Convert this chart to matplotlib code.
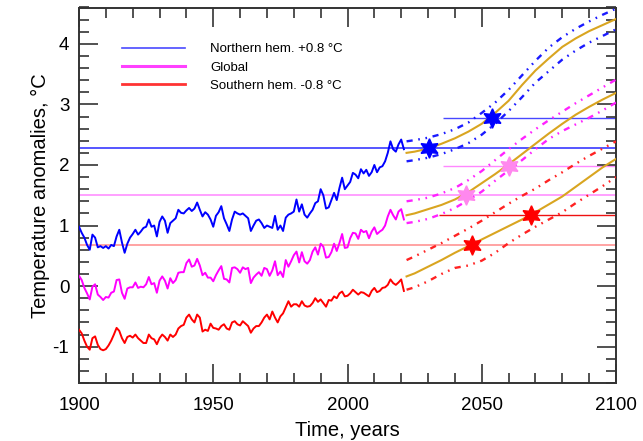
import numpy as np
import matplotlib
matplotlib.use("Agg")
import matplotlib.pyplot as plt
from matplotlib.ticker import MultipleLocator

plt.rcParams['font.family'] = ['Liberation Sans', 'DejaVu Sans']
plt.rcParams['axes.unicode_minus'] = False

# observed annual anomalies 1900-2021 (already offset as in the chart)
years = np.arange(1900, 2022)
glob = [0.17, 0.10, -0.03, -0.12, -0.22, -0.01, 0.03, -0.14, -0.18, -0.23,
        -0.18, -0.19, -0.11, -0.09, 0.10, 0.11, -0.11, -0.21, -0.04, -0.02,
        -0.02, 0.06, -0.03, -0.01, -0.02, 0.03, 0.15, 0.03, 0.05, -0.11,
        0.09, 0.16, 0.09, -0.04, 0.13, 0.05, 0.10, 0.22, 0.23, 0.23,
        0.38, 0.44, 0.32, 0.34, 0.45, 0.34, 0.18, 0.22, 0.14, 0.14,
        0.08, 0.18, 0.26, 0.33, 0.12, 0.11, 0.06, 0.30, 0.31, 0.28,
        0.22, 0.31, 0.28, 0.30, 0.05, 0.14, 0.19, 0.23, 0.17, 0.30,
        0.28, 0.17, 0.26, 0.41, 0.18, 0.24, 0.15, 0.43, 0.32, 0.41,
        0.51, 0.57, 0.39, 0.56, 0.41, 0.37, 0.43, 0.57, 0.64, 0.52,
        0.70, 0.65, 0.47, 0.48, 0.56, 0.70, 0.58, 0.71, 0.86, 0.63,
        0.64, 0.79, 0.88, 0.87, 0.78, 0.93, 0.89, 0.91, 0.79, 0.90,
        0.97, 0.86, 0.90, 0.93, 1.00, 1.15, 1.26, 1.17, 1.10, 1.23,
        1.27, 1.10]
north = [0.98, 0.88, 0.80, 0.68, 0.60, 0.85, 0.80, 0.64, 0.66, 0.63,
         0.66, 0.62, 0.68, 0.66, 0.82, 0.93, 0.72, 0.55, 0.70, 0.80,
         0.86, 0.93, 0.85, 0.90, 0.96, 0.98, 1.10, 0.98, 1.00, 0.82,
         1.06, 1.15, 1.08, 0.88, 1.04, 1.08, 1.12, 1.26, 1.21, 1.20,
         1.25, 1.29, 1.24, 1.28, 1.38, 1.26, 1.15, 1.22, 1.18, 1.10,
         0.98, 1.16, 1.22, 1.32, 1.12, 1.02, 0.91, 1.10, 1.23, 1.20,
         1.18, 1.20, 1.16, 1.12, 0.91, 1.00, 1.08, 1.10, 1.04, 0.96,
         1.00, 0.98, 0.96, 1.16, 0.93, 1.00, 0.91, 1.13, 1.18, 1.20,
         1.23, 1.43, 1.23, 1.35, 1.18, 1.13, 1.20, 1.26, 1.37, 1.40,
         1.60, 1.50, 1.28, 1.30, 1.42, 1.54, 1.42, 1.62, 1.79, 1.60,
         1.66, 1.72, 1.87, 1.84, 1.78, 1.93, 1.86, 1.92, 1.82, 1.88,
         2.00, 1.88, 1.96, 1.98, 2.06, 2.20, 2.39, 2.26, 2.22, 2.34,
         2.42, 2.26]
south = [-0.72, -0.78, -0.90, -1.00, -1.05, -0.86, -0.83, -0.97, -1.04, -1.06,
         -1.04, -0.98, -0.90, -0.80, -0.69, -0.74, -0.86, -0.94, -0.84, -0.82,
         -0.85, -0.80, -0.86, -0.90, -0.94, -0.94, -0.80, -0.86, -0.88, -0.96,
         -0.86, -0.80, -0.84, -0.90, -0.80, -0.84, -0.80, -0.70, -0.66, -0.64,
         -0.52, -0.47, -0.55, -0.60, -0.47, -0.52, -0.75, -0.72, -0.74, -0.62,
         -0.69, -0.70, -0.72, -0.66, -0.63, -0.70, -0.72, -0.60, -0.58, -0.63,
         -0.65, -0.58, -0.62, -0.66, -0.77, -0.70, -0.66, -0.66, -0.60, -0.52,
         -0.47, -0.55, -0.42, -0.52, -0.60, -0.50, -0.45, -0.35, -0.25, -0.34,
         -0.30, -0.30, -0.34, -0.25, -0.32, -0.34, -0.33, -0.28, -0.20, -0.26,
         -0.22, -0.28, -0.34, -0.23, -0.24, -0.17, -0.20, -0.12, -0.09, -0.17,
         -0.16, -0.12, -0.06, -0.10, -0.14, -0.10, -0.11, -0.14, -0.17, -0.08,
         -0.03, -0.10, -0.08, -0.03, -0.02, 0.02, 0.11, 0.05, 0.02, 0.06,
         0.11, -0.08]

# projections 2022-2100
proj_years = [2022, 2025, 2030, 2035, 2040, 2045, 2050, 2055, 2060,
              2065, 2070, 2075, 2080, 2085, 2090, 2095, 2100]
north_mid = [2.20, 2.22, 2.27, 2.35, 2.44, 2.55, 2.68, 2.86, 3.06,
             3.32, 3.56, 3.76, 3.95, 4.09, 4.21, 4.31, 4.41]
north_hi = [2.39, 2.41, 2.45, 2.51, 2.59, 2.70, 2.86, 3.03, 3.24,
            3.48, 3.72, 3.94, 4.11, 4.25, 4.37, 4.48, 4.58]
north_lo = [2.06, 2.08, 2.12, 2.18, 2.26, 2.36, 2.50, 2.68, 2.89,
            3.12, 3.36, 3.55, 3.74, 3.89, 4.02, 4.13, 4.24]
glob_mid = [1.17, 1.20, 1.27, 1.34, 1.43, 1.55, 1.70, 1.85, 2.01,
            2.18, 2.35, 2.52, 2.68, 2.83, 2.96, 3.08, 3.19]
glob_hi = [1.40, 1.42, 1.46, 1.53, 1.62, 1.75, 1.90, 2.08, 2.26,
           2.43, 2.59, 2.74, 2.88, 3.02, 3.15, 3.28, 3.41]
glob_lo = [1.04, 1.06, 1.11, 1.19, 1.29, 1.42, 1.56, 1.74, 1.91,
           2.08, 2.26, 2.43, 2.56, 2.67, 2.78, 2.90, 3.03]
south_mid = [0.16, 0.21, 0.32, 0.43, 0.55, 0.66, 0.77, 0.88, 0.99,
             1.10, 1.22, 1.35, 1.48, 1.64, 1.80, 1.96, 2.10]
south_hi = [0.43, 0.49, 0.60, 0.71, 0.83, 0.95, 1.08, 1.22, 1.36,
            1.49, 1.61, 1.75, 1.88, 2.02, 2.15, 2.27, 2.39]
south_lo = [-0.06, -0.02, 0.08, 0.20, 0.30, 0.34, 0.42, 0.55, 0.71,
            0.85, 0.98, 1.10, 1.22, 1.37, 1.51, 1.65, 1.80]

# reference levels and crossing points
level_now = [2.28, 1.50, 0.68]
level_up = [2.78, 1.99, 1.18]
star_now_x = [2030.3, 2044.0, 2046.5]
star_up_x = [2053.8, 2060.2, 2068.3]

series_col = ['#0000ff', '#ff00ff', '#ff0000']
band_col = ['#1a1aff', '#ff22ff', '#ff2222']
lvl_col = ['#4848ff', '#ff99ff', '#ff9c9c']
up_col = ['#4848ff', '#ff88ff', '#ee1111']
star_col = ['#0000ff', '#ff88ee', '#ff0000']
gold = '#d9a520'

fig = plt.figure(figsize=(6.43, 4.41), dpi=100)
ax = fig.add_axes([79 / 643, 1 - 383 / 441, 537 / 643, 375.5 / 441])

for i, (obs, mid, hi, lo) in enumerate([(north, north_mid, north_hi, north_lo),
                                        (glob, glob_mid, glob_hi, glob_lo),
                                        (south, south_mid, south_hi, south_lo)]):
    ax.axhline(level_now[i], color=lvl_col[i], lw=1.3, zorder=1)
    ax.hlines(level_up[i], 2035.5 if i < 2 else 2034, 2100, color=up_col[i], lw=1.0, zorder=1)
    ax.plot(years, obs, color=series_col[i], lw=1.4, zorder=3)
    ax.plot(proj_years, mid, color=gold, lw=1.5, zorder=3)
    for b in (hi, lo):
        ax.plot(proj_years, b, color=band_col[i], lw=1.7, zorder=3,
                dashes=[2.6, 2.4, 0.7, 2.4, 0.7, 2.4])
    ax.plot([star_now_x[i], star_up_x[i]], [level_now[i], level_up[i]], ls='none',
            marker=(6, 1, 0), ms=14, color=star_col[i], mec=star_col[i], zorder=4)

# legend
h1, = ax.plot([], [], color='#4a4aff', lw=1.2)
h2, = ax.plot([], [], color='#ff40ff', lw=2.2)
h3, = ax.plot([], [], color='#ff3333', lw=2.0)
ax.legend([h1, h2, h3], ['Northern hem. +0.8 \u00b0C', 'Global', 'Southern hem. -0.8 \u00b0C'],
          loc='upper left', bbox_to_anchor=(0.08, 0.905), frameon=False,
          fontsize=9.5, handlelength=4.8, handletextpad=1.9, labelspacing=0.45,
          borderpad=0, borderaxespad=0)

ax.set_xlim(1900, 2100)
ax.set_ylim(-1.6, 4.6)
ax.xaxis.set_major_locator(MultipleLocator(50))
ax.xaxis.set_minor_locator(MultipleLocator(10))
ax.yaxis.set_major_locator(MultipleLocator(1))
ax.yaxis.set_minor_locator(MultipleLocator(0.2))
ax.tick_params(which='both', direction='in', top=True, right=True,
               color='#333333', width=1.2, labelsize=13.5)
ax.tick_params(axis='x', pad=10)
ax.tick_params(axis='y', pad=7)
ax.tick_params(which='major', length=14)
ax.tick_params(which='minor', length=7)
for s in ax.spines.values():
    s.set_linewidth(1.4)
    s.set_color('#333333')

ax.set_xlabel('Time, years', fontsize=14.5, labelpad=5)
ax.set_ylabel('Temperature anomalies, \u00b0C', fontsize=14.5, labelpad=2)

fig.savefig('out.png', dpi=100)
